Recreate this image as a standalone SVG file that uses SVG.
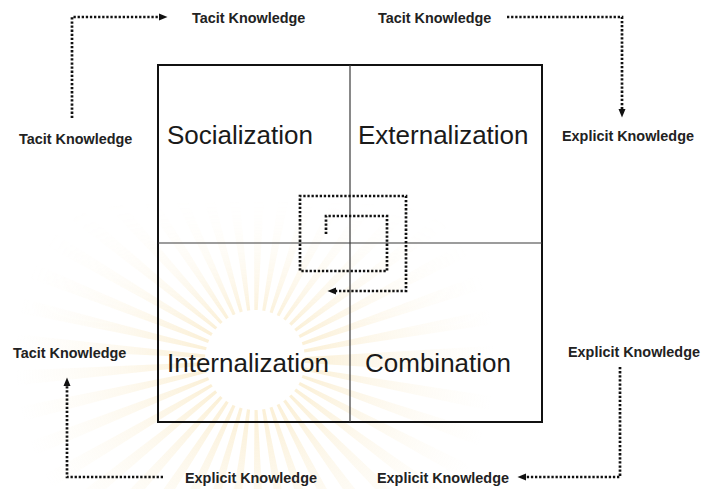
<svg xmlns="http://www.w3.org/2000/svg" width="707" height="489" viewBox="0 0 707 489">
  <style>
    .quad-label { font-family: "Liberation Sans", Arial, sans-serif; font-size: 26px; fill: #1a1a1a; }
    .side-label { font-family: "Liberation Sans", Arial, sans-serif; font-size: 14.4px; font-weight: bold; fill: #222; }
    .dotted { fill: none; stroke: #111; stroke-width: 2.7; stroke-dasharray: 2.3 1.8; }
    .frame { fill: none; stroke: #111; stroke-width: 2; }
    .divider { stroke: #3a3a3a; stroke-width: 1.2; }
  </style>
  <defs>
    <marker id="arrow" markerUnits="userSpaceOnUse" markerWidth="9" markerHeight="8" refX="1" refY="4" orient="auto">
      <path d="M0,0.5 L8.5,4 L0,7.5 z" fill="#111"/>
    </marker>
    <radialGradient id="rayGlow" gradientUnits="userSpaceOnUse" cx="255" cy="360" r="240">
      <stop offset="0.2" stop-color="#efc460" stop-opacity="0.26"/>
      <stop offset="0.55" stop-color="#f2d38a" stop-opacity="0.14"/>
      <stop offset="1" stop-color="#f6e2b0" stop-opacity="0"/>
    </radialGradient>
    <linearGradient id="fadeUp" gradientUnits="userSpaceOnUse" x1="0" y1="200" x2="0" y2="330">
      <stop offset="0" stop-color="#fff" stop-opacity="0"/>
      <stop offset="1" stop-color="#fff" stop-opacity="1"/>
    </linearGradient>
    <mask id="lowerHalf" maskUnits="userSpaceOnUse" x="0" y="0" width="707" height="489">
      <rect width="707" height="489" fill="url(#fadeUp)"/>
    </mask>
  </defs>

  <rect width="707" height="489" fill="#ffffff"/>

  <!-- faint sunburst emblem in the background -->
  <g id="emblem" mask="url(#lowerHalf)">
    <circle cx="255" cy="360" r="145" fill="none" stroke="url(#rayGlow)" stroke-width="190" stroke-dasharray="9 13"/>
  </g>

  <!-- four-quadrant matrix -->
  <g id="matrix">
    <rect class="frame" x="158" y="65" width="384" height="357"/>
    <line class="divider" x1="350" y1="65" x2="350" y2="422"/>
    <line class="divider" x1="158" y1="243" x2="542" y2="243"/>
  </g>

  <g id="socialization">
    <text class="quad-label" x="167" y="144">Socialization</text>
  </g>
  <g id="externalization">
    <text class="quad-label" x="358" y="144">Externalization</text>
  </g>
  <g id="internalization">
    <text class="quad-label" x="167" y="372">Internalization</text>
  </g>
  <g id="combination">
    <text class="quad-label" x="365" y="372">Combination</text>
  </g>

  <!-- knowledge labels around the matrix -->
  <g id="soc-from"><text class="side-label" x="19" y="144">Tacit Knowledge</text></g>
  <g id="soc-to"><text class="side-label" x="192" y="23">Tacit Knowledge</text></g>
  <g id="ext-from"><text class="side-label" x="378" y="23">Tacit Knowledge</text></g>
  <g id="ext-to"><text class="side-label" x="562" y="141">Explicit Knowledge</text></g>
  <g id="com-from"><text class="side-label" x="568" y="357">Explicit Knowledge</text></g>
  <g id="com-to"><text class="side-label" x="377" y="483">Explicit Knowledge</text></g>
  <g id="int-from"><text class="side-label" x="185" y="483">Explicit Knowledge</text></g>
  <g id="int-to"><text class="side-label" x="13" y="358">Tacit Knowledge</text></g>

  <!-- dotted connectors -->
  <g id="connectors">
    <path class="dotted" d="M72,118 L72,17 L160,17" marker-end="url(#arrow)"/>
    <path class="dotted" d="M507,17 L622,17 L622,110" marker-end="url(#arrow)"/>
    <path class="dotted" d="M620,367 L620,477 L525,477" marker-end="url(#arrow)"/>
    <path class="dotted" d="M163,477 L67,477 L67,385" marker-end="url(#arrow)"/>
    <!-- spiral of knowledge creation -->
    <path class="dotted" d="M326,234 L326,216 L387,216 L387,271 L300,271 L300,196 L406,196 L406,291 L335,291" marker-end="url(#arrow)"/>
  </g>
</svg>
